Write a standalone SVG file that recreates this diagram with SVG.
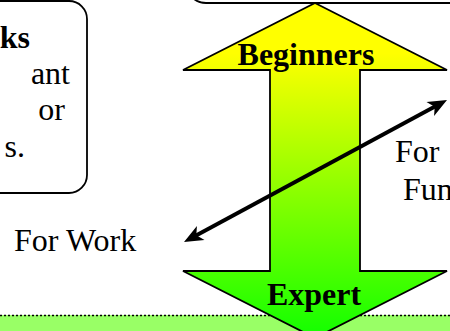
<svg xmlns="http://www.w3.org/2000/svg" width="450" height="331" viewBox="0 0 450 331">
<defs>
<style>
.t{font-family:"Liberation Serif","Times New Roman",serif;font-size:32px;fill:#000}
.b{font-weight:bold}
.box{fill:#fff;stroke:#000;stroke-width:1.8}
</style>
<linearGradient id="g" x1="0" y1="3" x2="0" y2="338" gradientUnits="userSpaceOnUse">
<stop offset="0.15" stop-color="#ffff00"/>
<stop offset="1" stop-color="#11ff00"/>
</linearGradient>
<marker id="ah" markerUnits="userSpaceOnUse" viewBox="-10 -10 22 20" markerWidth="22" markerHeight="20" refX="0" refY="0" orient="auto-start-reverse">
<path d="M10,0 L-9,-8 L-4,0 L-9,8 Z" fill="#000"/>
</marker>
</defs>
<rect x="0" y="315" width="450" height="16" fill="#99ff66"/>
<line x1="0" y1="315.5" x2="450" y2="315.5" stroke="#000" stroke-width="1.5" stroke-dasharray="2,2"/>
<g id="box-left">
<rect class="box" x="-60" y="1" width="147" height="192" rx="18"/>
<text class="t b" x="30" y="48" text-anchor="end">ks</text>
<text class="t" x="70" y="84" text-anchor="end">ant</text>
<text class="t" x="65" y="120" text-anchor="end">or</text>
<text class="t" x="25" y="157" text-anchor="end">s.</text>
</g>
<g id="box-top">
<rect class="box" x="186" y="-60" width="300" height="63" rx="20"/>
</g>
<g id="level-arrow">
<polygon points="315,3 447,70 360,70 360,271 447,271 315,338 183,271 270,271 270,70 183,70" fill="url(#g)" stroke="#000" stroke-width="1.8" stroke-linejoin="miter"/>
<text class="t b" x="306" y="65" text-anchor="middle">Beginners</text>
<text class="t b" x="314" y="305" text-anchor="middle">Expert</text>
</g>
<g id="label-work">
<text class="t" x="14" y="251">For Work</text>
</g>
<g id="label-fun">
<text class="t" x="395" y="162">For</text>
<text class="t" x="403" y="200">Fun</text>
</g>
<g id="connectors">
<line x1="192.8" y1="237.25" x2="438.2" y2="104.75" stroke="#000" stroke-width="4" marker-start="url(#ah)" marker-end="url(#ah)"/>
</g>
</svg>
